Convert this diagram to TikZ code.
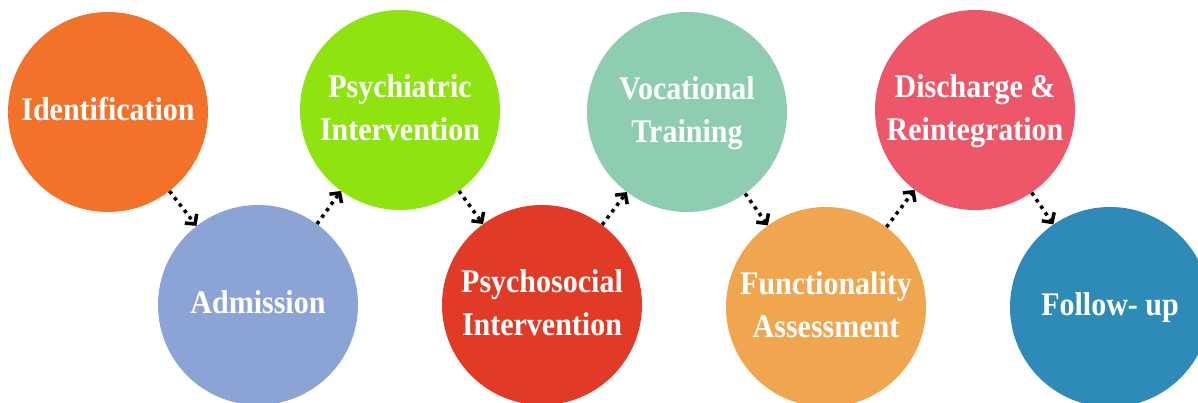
\documentclass[tikz,border=0pt]{standalone}
\usepackage{fontspec}
\setmainfont{Liberation Serif}
\usetikzlibrary{arrows.meta}

\definecolor{cIdent}{HTML}{F2722A}
\definecolor{cAdm}{HTML}{8BA3D5}
\definecolor{cPsych}{HTML}{8FE30F}
\definecolor{cSocial}{HTML}{E13A26}
\definecolor{cVoc}{HTML}{8ECDB0}
\definecolor{cFunc}{HTML}{F0A64F}
\definecolor{cDisch}{HTML}{EE566A}
\definecolor{cFollow}{HTML}{2E8BB8}

\newcommand\tallbox[1]{\scalebox{1}[1.1]{\begin{tabular}{@{}c@{}}#1\end{tabular}}}

\tikzset{
  stage/.style={circle, minimum size=200pt, inner sep=0pt, fill=#1, text=white,
    align=center, font=\fontsize{30}{39}\selectfont\bfseries},
  flow/.style={line width=3.5pt, dash pattern=on 3.5pt off 4.5pt,
    -{Straight Barb[length=7pt,width=15pt,line width=3.5pt]}}
}

\begin{document}
\begin{tikzpicture}[x=1pt,y=-1pt]
\useasboundingbox (0,0) rectangle (1198,403);
\clip (0,0) rectangle (1198,403);

\node[stage=cIdent] (ident) at (108,112) {\tallbox{Identification}};
\node[stage=cAdm] (adm) at (258,305) {\tallbox{Admission}};
\node[stage=cPsych] (psych) at (400,110) {\tallbox{Psychiatric\\Intervention}};
\node[stage=cSocial] (social) at (542,305) {\tallbox{Psychosocial\\Intervention}};
\node[stage=cVoc] (voc) at (687,112) {\tallbox{Vocational\\Training}};
\node[stage=cFunc] (func) at (826,307) {\tallbox{Functionality\\Assessment}};
\node[stage=cDisch] (disch) at (975,110) {\tallbox{Discharge \&\\Reintegration}};
\node[stage=cFollow] (follow) at (1110,307) {\tallbox{Follow- up}};

\foreach \a/\b in {ident/adm, adm/psych, psych/social, social/voc,
                   voc/func, func/disch, disch/follow}
  \draw[flow] (\a) -- (\b);

\end{tikzpicture}
\end{document}
